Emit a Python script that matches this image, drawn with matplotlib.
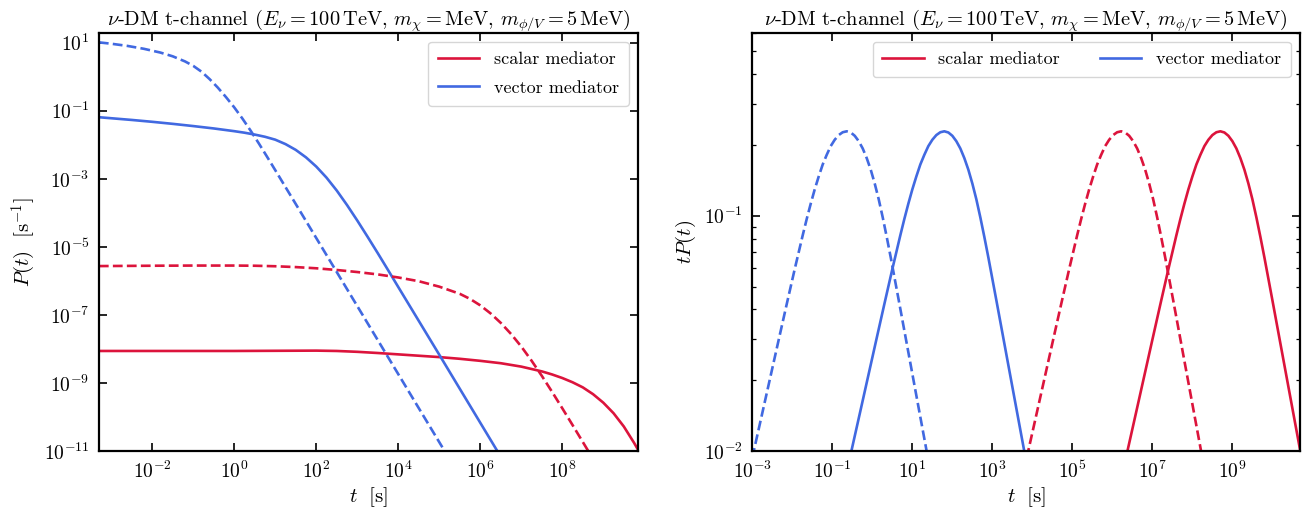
import numpy as np
import matplotlib
matplotlib.use("Agg")
import matplotlib.pyplot as plt
from matplotlib.ticker import LogLocator, NullLocator, NullFormatter, FixedLocator

plt.rcParams['font.family'] = 'serif'
plt.rcParams['font.serif'] = ['cmr10']
plt.rcParams['mathtext.fontset'] = 'cm'
plt.rcParams['axes.formatter.use_mathtext'] = True
plt.rcParams['axes.unicode_minus'] = False

RED = '#DC143C'
BLUE = '#4169E1'

# ---------------- left panel: P(t), log10 values ----------------
vd_logt = [-3.30, -3.0, -2.6, -2.2, -1.8, -1.5, -1.2, -1.0, -0.8, -0.6, -0.4, -0.2, 0.0,
           0.2, 0.4, 0.6, 0.8, 1.0, 1.5, 2.0, 3.0, 4.0, 5.0, 5.2]
vd_logP = [1.01, 0.97, 0.905, 0.82, 0.71, 0.60, 0.45, 0.32, 0.15, -0.07, -0.32, -0.60, -0.90,
           -1.23, -1.585, -1.96, -2.35, -2.745, -3.74, -4.74, -6.74, -8.74, -10.74, -11.14]

vs_logt = [-3.30, -2.5, -2.0, -1.5, -1.0, -0.5, 0.0, 0.25, 0.5, 0.75, 1.0, 1.25, 1.5, 1.75,
           2.0, 2.25, 2.5, 2.75, 3.0, 3.25, 3.5, 3.75, 4.0, 4.5, 5.0, 6.0, 6.5]
vs_logP = [-1.19, -1.27, -1.325, -1.385, -1.45, -1.52, -1.60, -1.645, -1.70, -1.765, -1.85,
           -1.98, -2.15, -2.37, -2.64, -2.965, -3.345, -3.77, -4.225, -4.70, -5.185, -5.68,
           -6.18, -7.175, -8.17, -10.17, -11.17]

sd_logt = [-3.30, -2.0, -1.0, 0.0, 0.5, 1.0, 1.5, 2.0, 2.5, 3.0, 3.5, 4.0, 4.5, 5.0, 5.5,
           5.75, 6.0, 6.25, 6.5, 6.75, 7.0, 7.25, 7.5, 7.75, 8.0, 8.25, 8.5, 8.7]
sd_logP = [-5.565, -5.555, -5.55, -5.55, -5.555, -5.57, -5.595, -5.63, -5.68, -5.74, -5.81,
           -5.90, -6.01, -6.17, -6.38, -6.53, -6.72, -6.955, -7.235, -7.56, -7.93, -8.345,
           -8.79, -9.26, -9.745, -10.237, -10.735, -11.135]

ss_logt = [-3.30, -2.0, -1.0, 0.0, 1.0, 2.0, 2.5, 3.0, 3.5, 4.0, 4.5, 5.0, 5.5, 6.0, 6.5,
           7.0, 7.5, 7.75, 8.0, 8.25, 8.5, 8.75, 9.0, 9.25, 9.5, 9.75, 9.85, 9.9]
ss_logP = [-8.06, -8.06, -8.06, -8.06, -8.055, -8.05, -8.06, -8.085, -8.12, -8.16, -8.20,
           -8.24, -8.29, -8.35, -8.42, -8.52, -8.66, -8.75, -8.855, -8.98, -9.13, -9.33,
           -9.58, -9.89, -10.28, -10.76, -10.97, -11.07]

# ---------------- right panel: t P(t), log10 values ----------------
# all four bumps have the same shape: offsets in log10(t) from each peak, and log10(tP)
bump_dlogt = [-2.36, -2.29, -2.1, -1.9, -1.7, -1.5, -1.3, -1.1, -1.0, -0.9, -0.8, -0.7, -0.6,
              -0.5, -0.4, -0.3, -0.2, -0.1, 0.0, 0.1, 0.2, 0.3, 0.4, 0.5, 0.6, 0.7, 0.8, 0.9,
              1.0, 1.1, 1.3, 1.5, 1.7, 1.97, 2.05]
bump_logtP = [-2.028, -1.975, -1.831, -1.679, -1.527, -1.376, -1.227, -1.083, -1.014, -0.949,
              -0.888, -0.833, -0.782, -0.741, -0.704, -0.677, -0.657, -0.645, -0.641, -0.646,
              -0.660, -0.683, -0.714, -0.755, -0.804, -0.863, -0.930, -1.007, -1.090, -1.177,
              -1.359, -1.543, -1.727, -1.975, -2.049]
peak_logt_vec_dashed = -0.64
peak_logt_vec_solid = 1.80
peak_logt_sca_dashed = 6.22
peak_logt_sca_solid = 8.70

title = (r'$\nu$-DM t-channel ($E_\nu=100\,\mathrm{TeV}$, $m_\chi=\mathrm{MeV}$, '
         r'$m_{\phi/V}=5\,\mathrm{MeV}$)')
left_xticks = [1e-2, 1e0, 1e2, 1e4, 1e6, 1e8]
left_yticks = [1e-11, 1e-9, 1e-7, 1e-5, 1e-3, 1e-1, 1e1]
right_xticks = [1e-3, 1e-1, 1e1, 1e3, 1e5, 1e7, 1e9]
right_yticks = [1e-2, 1e-1]


def p(a):
    return np.power(10.0, np.asarray(a, dtype=float))


W, H = 1313, 507
fig = plt.figure(figsize=(W / 100, H / 100), dpi=100)
axL = fig.add_axes([99.3 / W, (H - 451) / H, (638 - 99.3) / W, (451 - 32.7) / H])
axR = fig.add_axes([752.3 / W, (H - 451) / H, (1300 - 752.3) / W, (451 - 32.7) / H])

lw = 1.9
axL.plot(p(ss_logt), p(ss_logP), color=RED, lw=lw, label='scalar mediator')
axL.plot(p(vs_logt), p(vs_logP), color=BLUE, lw=lw, label='vector mediator')
axL.plot(p(sd_logt), p(sd_logP), color=RED, lw=lw, ls='--')
axL.plot(p(vd_logt), p(vd_logP), color=BLUE, lw=lw, ls='--')

bump_x = np.asarray(bump_dlogt)
axR.plot(p(bump_x + peak_logt_sca_solid), p(bump_logtP), color=RED, lw=lw, label='scalar mediator')
axR.plot(p(bump_x + peak_logt_vec_solid), p(bump_logtP), color=BLUE, lw=lw, label='vector mediator')
axR.plot(p(bump_x + peak_logt_sca_dashed), p(bump_logtP), color=RED, lw=lw, ls='--')
axR.plot(p(bump_x + peak_logt_vec_dashed), p(bump_logtP), color=BLUE, lw=lw, ls='--')

for ax in (axL, axR):
    ax.set_xscale('log')
    ax.set_yscale('log')
    ax.set_title(title, fontsize=14.7)
    ax.set_xlabel(r'$t\ \ [\mathrm{s}]$', fontsize=15, labelpad=2)
    ax.tick_params(which='both', direction='in', top=True, right=True, labelsize=14)
    ax.tick_params(which='major', length=6, width=1.2, pad=7)
    ax.tick_params(which='minor', length=3, width=0.9)
    for s in ax.spines.values():
        s.set_linewidth(1.6)

axL.set_xlim(10 ** -3.29, 10 ** 9.846)
axL.set_ylim(1e-11, 10 ** 1.294)
axL.xaxis.set_major_locator(FixedLocator(left_xticks))
axL.yaxis.set_major_locator(FixedLocator(left_yticks))
axL.xaxis.set_minor_locator(NullLocator())
axL.yaxis.set_minor_locator(NullLocator())
axL.set_ylabel(r'$P(t)\ \ [\mathrm{s}^{-1}]$', fontsize=15)
axL.legend(loc='upper right', fontsize=13, handlelength=2.3, labelspacing=0.7,
           borderpad=0.55)

axR.set_xlim(1e-3, 10 ** 10.69)
axR.set_ylim(1e-2, 0.6)
axR.xaxis.set_major_locator(FixedLocator(right_xticks))
axR.yaxis.set_major_locator(FixedLocator(right_yticks))
axR.xaxis.set_minor_locator(NullLocator())
axR.yaxis.set_minor_locator(LogLocator(base=10, subs=np.arange(2, 10)))
axR.yaxis.set_minor_formatter(NullFormatter())
axR.set_ylabel(r'$tP(t)$', fontsize=15)
axR.legend(loc='upper right', fontsize=13, ncol=2, handlelength=2.3, columnspacing=2.2,
           borderpad=0.55)

fig.savefig('out.png', dpi=100)
